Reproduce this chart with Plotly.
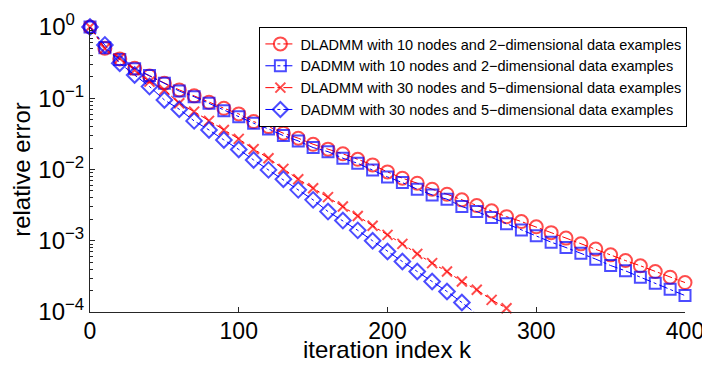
import plotly.graph_objects as go

iters = list(range(0, 410, 10))

dladmm_10 = [1.0, 0.503, 0.356, 0.263, 0.205, 0.162, 0.131, 0.108, 0.0879, 0.0724,
             0.0603, 0.0470, 0.0400, 0.0323, 0.0275, 0.0226, 0.0193, 0.0166, 0.0139, 0.0116,
             0.00925, 0.00755, 0.00642, 0.00529, 0.00450, 0.00375, 0.00312, 0.00263, 0.00218, 0.00186,
             0.00157, 0.00130, 0.00109, 0.000905, 0.000763, 0.000634, 0.000527, 0.000445, 0.000370, 0.000308,
             0.000259]

dadmm_10 = [1.0, 0.51, 0.35, 0.26, 0.208, 0.162, 0.126, 0.105, 0.085, 0.067,
            0.0552, 0.0446, 0.0371, 0.0299, 0.0252, 0.0203, 0.0178, 0.0144, 0.0122, 0.00987,
            0.00787, 0.00655, 0.00529, 0.00440, 0.00383, 0.00302, 0.00257, 0.00212, 0.00173, 0.00142,
            0.00118, 0.000956, 0.000803, 0.000670, 0.000552, 0.000449, 0.000378, 0.000308, 0.000254, 0.000209,
            0.000170]

iters_30 = list(range(0, 290, 10))
dladmm_30 = [1.0, 0.50, 0.364, 0.249, 0.171, 0.131, 0.085, 0.0649, 0.0481, 0.0359,
             0.0269, 0.0193, 0.0144, 0.0102, 0.00731, 0.00547, 0.00409, 0.00302, 0.00223, 0.00162,
             0.00121, 0.000905, 0.000655, 0.000485, 0.000370, 0.000268, 0.000205, 0.000148, 0.000113]

iters_30d = list(range(0, 270, 10))
dadmm_30 = [1.0, 0.56, 0.31, 0.212, 0.146, 0.0947, 0.0701, 0.0481, 0.0359, 0.0260,
            0.0191, 0.0136, 0.00987, 0.00731, 0.00518, 0.00375, 0.00257, 0.00192, 0.00140, 0.000998,
            0.000706, 0.000511, 0.000370, 0.000268, 0.000194, 0.000136, 0.0000930]

names = ["DLADMM with 10 nodes and 2\u2212dimensional data examples",
         "DADMM with 10 nodes and 2\u2212dimensional data examples",
         "DLADMM with 30 nodes and 5\u2212dimensional data examples",
         "DADMM with 30 nodes and 5\u2212dimensional data examples"]

x_ticks = [0, 100, 200, 300, 400]
y_ticks = [1e-4, 1e-3, 1e-2, 1e-1, 1e0]
y_ticktext = ["10<sup>\u22124</sup>", "10<sup>\u22123</sup>", "10<sup>\u22122</sup>",
              "10<sup>\u22121</sup>", "10<sup>0\u2007</sup>"]

RED = "#FF0000"
BLUE = "#0000FF"

def sizes(vals, s):
    return [s if v >= 1e-4 else 0 for v in vals]

series = [
    (iters, dladmm_10, names[0], RED, "circle-open", 13),
    (iters, dadmm_10, names[1], BLUE, "square-open", 11),
    (iters_30, dladmm_30, names[2], RED, "x-thin-open", 10),
    (iters_30d, dadmm_30, names[3], BLUE, "diamond-open", 12),
]

fig = go.Figure()
for xs, ys, nm, col, sym, sz in series:
    fig.add_trace(go.Scatter(
        x=xs, y=ys, name=nm, mode="lines+markers",
        line=dict(color=col, width=1, dash="dashdot"),
        marker=dict(symbol=sym, size=sizes(ys, sz), color=col,
                    line=dict(color=col, width=2)),
        cliponaxis=False,
    ))

minor_vals = [m * 10.0 ** e for e in range(-4, 0) for m in range(2, 10)]

# page body adds an 8px offset; figure sized so that it fits the 710x365 window
fig.update_layout(
    width=702, height=357,
    margin=dict(l=82, r=25, t=19, b=53),
    paper_bgcolor="white", plot_bgcolor="white",
    font=dict(family="Liberation Sans, Arial, sans-serif", color="black"),
    showlegend=True,
    legend=dict(x=1.004, xanchor="right", y=1.0, yanchor="top",
                bgcolor="white", bordercolor="black", borderwidth=1,
                font=dict(size=14.5), tracegroupgap=0,
                itemwidth=30),
    xaxis=dict(range=[0, 400], tickvals=x_ticks, ticks="inside", ticklen=5,
               showline=True, linecolor="#262626", linewidth=1, tickcolor="#262626",
               showgrid=False, zeroline=False, tickfont=dict(size=23),
               ticklabelstandoff=-2, automargin=False),
    yaxis=dict(type="log", range=[-4, 0], tickvals=y_ticks, ticktext=y_ticktext,
               ticks="inside", ticklen=5, showline=True, linecolor="#262626",
               linewidth=1, tickcolor="#262626", showgrid=False, zeroline=False,
               tickfont=dict(size=24), automargin=False,
               minor=dict(tickvals=minor_vals, ticks="inside", ticklen=3,
                          tickcolor="#262626", showgrid=False),
               title=dict(text="relative error", font=dict(size=24), standoff=4)),
    annotations=[
        dict(text="iteration index k", xref="paper", yref="paper", x=0.5, y=-0.13,
             xanchor="center", yanchor="middle", showarrow=False,
             font=dict(size=24, color="black")),
    ],
)

fig.write_html("out.html")
